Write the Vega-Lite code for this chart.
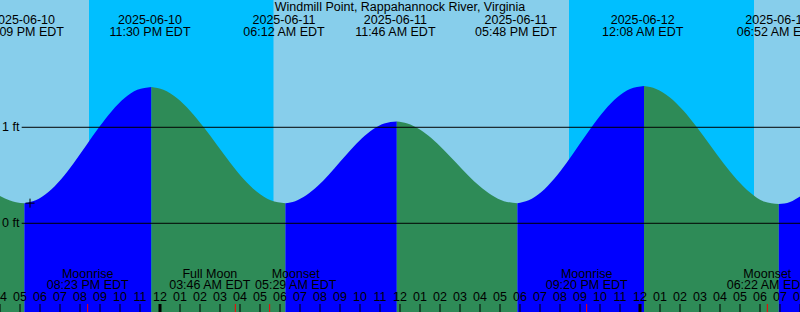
{
  "$schema": "https://vega.github.io/schema/vega-lite/v6.json",
  "width": 800,
  "height": 312,
  "autosize": {"type": "none"},
  "padding": 0,
  "background": "#87CEEB",
  "view": {"stroke": null},
  "config": {"text": {"font": "Liberation Sans", "fontSize": 12.5, "color": "black"}},
  "datasets": {
    "bands": [
      {"start": -8, "end": -3.55, "kind": "day"},
      {"start": -3.55, "end": 5.685, "kind": "night"},
      {"start": 5.685, "end": 20.45, "kind": "day"},
      {"start": 20.45, "end": 29.7, "kind": "night"},
      {"start": 29.7, "end": 32, "kind": "day"}
    ],
    "tide": [
      {"h": -8, "ft": 0.285, "seg": 1, "phase": "falling"},
      {"h": -7.5, "ft": 0.238, "seg": 1, "phase": "falling"},
      {"h": -7.2, "ft": 0.22, "seg": 1, "phase": "falling"},
      {"h": -6.78, "ft": 0.21, "seg": 1, "phase": "falling"},
      {"h": -6.78, "ft": 0.21, "seg": 2, "phase": "rising"},
      {"h": -6.215, "ft": 0.2396, "seg": 2, "phase": "rising"},
      {"h": -5.58, "ft": 0.3255, "seg": 2, "phase": "rising"},
      {"h": -4.945, "ft": 0.4594, "seg": 2, "phase": "rising"},
      {"h": -4.31, "ft": 0.628, "seg": 2, "phase": "rising"},
      {"h": -3.675, "ft": 0.815, "seg": 2, "phase": "rising"},
      {"h": -3.04, "ft": 1.002, "seg": 2, "phase": "rising"},
      {"h": -2.405, "ft": 1.1706, "seg": 2, "phase": "rising"},
      {"h": -1.77, "ft": 1.3045, "seg": 2, "phase": "rising"},
      {"h": -1.135, "ft": 1.3904, "seg": 2, "phase": "rising"},
      {"h": -0.43, "ft": 1.42, "seg": 2, "phase": "rising"},
      {"h": -0.43, "ft": 1.42, "seg": 3, "phase": "falling"},
      {"h": 0.17, "ft": 1.3904, "seg": 3, "phase": "falling"},
      {"h": 0.84, "ft": 1.3045, "seg": 3, "phase": "falling"},
      {"h": 1.51, "ft": 1.1706, "seg": 3, "phase": "falling"},
      {"h": 2.18, "ft": 1.002, "seg": 3, "phase": "falling"},
      {"h": 2.85, "ft": 0.815, "seg": 3, "phase": "falling"},
      {"h": 3.52, "ft": 0.628, "seg": 3, "phase": "falling"},
      {"h": 4.19, "ft": 0.4594, "seg": 3, "phase": "falling"},
      {"h": 4.86, "ft": 0.3255, "seg": 3, "phase": "falling"},
      {"h": 5.53, "ft": 0.2396, "seg": 3, "phase": "falling"},
      {"h": 6.27, "ft": 0.21, "seg": 3, "phase": "falling"},
      {"h": 6.27, "ft": 0.21, "seg": 4, "phase": "rising"},
      {"h": 6.757, "ft": 0.2308, "seg": 4, "phase": "rising"},
      {"h": 7.313, "ft": 0.2912, "seg": 4, "phase": "rising"},
      {"h": 7.87, "ft": 0.3852, "seg": 4, "phase": "rising"},
      {"h": 8.427, "ft": 0.5037, "seg": 4, "phase": "rising"},
      {"h": 8.983, "ft": 0.635, "seg": 4, "phase": "rising"},
      {"h": 9.54, "ft": 0.7663, "seg": 4, "phase": "rising"},
      {"h": 10.097, "ft": 0.8848, "seg": 4, "phase": "rising"},
      {"h": 10.653, "ft": 0.9788, "seg": 4, "phase": "rising"},
      {"h": 11.21, "ft": 1.0392, "seg": 4, "phase": "rising"},
      {"h": 11.84, "ft": 1.06, "seg": 4, "phase": "rising"},
      {"h": 11.84, "ft": 1.06, "seg": 5, "phase": "falling"},
      {"h": 12.37, "ft": 1.0392, "seg": 5, "phase": "falling"},
      {"h": 12.973, "ft": 0.9788, "seg": 5, "phase": "falling"},
      {"h": 13.577, "ft": 0.8848, "seg": 5, "phase": "falling"},
      {"h": 14.18, "ft": 0.7663, "seg": 5, "phase": "falling"},
      {"h": 14.783, "ft": 0.635, "seg": 5, "phase": "falling"},
      {"h": 15.387, "ft": 0.5037, "seg": 5, "phase": "falling"},
      {"h": 15.99, "ft": 0.3852, "seg": 5, "phase": "falling"},
      {"h": 16.593, "ft": 0.2912, "seg": 5, "phase": "falling"},
      {"h": 17.197, "ft": 0.2308, "seg": 5, "phase": "falling"},
      {"h": 17.87, "ft": 0.21, "seg": 5, "phase": "falling"},
      {"h": 17.87, "ft": 0.21, "seg": 6, "phase": "rising"},
      {"h": 18.433, "ft": 0.2399, "seg": 6, "phase": "rising"},
      {"h": 19.067, "ft": 0.3265, "seg": 6, "phase": "rising"},
      {"h": 19.7, "ft": 0.4615, "seg": 6, "phase": "rising"},
      {"h": 20.333, "ft": 0.6315, "seg": 6, "phase": "rising"},
      {"h": 20.967, "ft": 0.82, "seg": 6, "phase": "rising"},
      {"h": 21.6, "ft": 1.0085, "seg": 6, "phase": "rising"},
      {"h": 22.233, "ft": 1.1785, "seg": 6, "phase": "rising"},
      {"h": 22.867, "ft": 1.3135, "seg": 6, "phase": "rising"},
      {"h": 23.5, "ft": 1.4001, "seg": 6, "phase": "rising"},
      {"h": 24.2, "ft": 1.43, "seg": 6, "phase": "rising"},
      {"h": 24.2, "ft": 1.43, "seg": 7, "phase": "falling"},
      {"h": 24.807, "ft": 1.3999, "seg": 7, "phase": "falling"},
      {"h": 25.48, "ft": 1.3125, "seg": 7, "phase": "falling"},
      {"h": 26.153, "ft": 1.1765, "seg": 7, "phase": "falling"},
      {"h": 26.827, "ft": 1.005, "seg": 7, "phase": "falling"},
      {"h": 27.5, "ft": 0.815, "seg": 7, "phase": "falling"},
      {"h": 28.173, "ft": 0.6249, "seg": 7, "phase": "falling"},
      {"h": 28.847, "ft": 0.4535, "seg": 7, "phase": "falling"},
      {"h": 29.52, "ft": 0.3175, "seg": 7, "phase": "falling"},
      {"h": 30.193, "ft": 0.2268, "seg": 7, "phase": "falling"},
      {"h": 30.94, "ft": 0.2, "seg": 7, "phase": "falling"},
      {"h": 30.94, "ft": 0.2, "seg": 8, "phase": "rising"},
      {"h": 31.5, "ft": 0.222, "seg": 8, "phase": "rising"},
      {"h": 32, "ft": 0.28, "seg": 8, "phase": "rising"}
    ],
    "levels": [
      {"ft": 1, "label": "1 ft"},
      {"ft": 0, "label": "0 ft"}
    ],
    "tideEvents": [
      {"h": -6.85, "date": "2025-06-10", "time": "05:09 PM EDT"},
      {"h": -0.5, "date": "2025-06-10", "time": "11:30 PM EDT"},
      {"h": 6.2, "date": "2025-06-11", "time": "06:12 AM EDT"},
      {"h": 11.767, "date": "2025-06-11", "time": "11:46 AM EDT"},
      {"h": 17.8, "date": "2025-06-11", "time": "05:48 PM EDT"},
      {"h": 24.133, "date": "2025-06-12", "time": "12:08 AM EDT"},
      {"h": 30.867, "date": "2025-06-12", "time": "06:52 AM EDT"}
    ],
    "moon": [
      {"h": -3.617, "name": "Moonrise", "time": "08:23 PM EDT"},
      {"h": 3.767, "name": "Full Moon", "time": "03:46 AM EDT"},
      {"h": 5.483, "name": "Moonset", "time": "05:29 AM EDT"},
      {"h": 21.333, "name": "Moonrise", "time": "09:20 PM EDT"},
      {"h": 30.367, "name": "Moonset", "time": "06:22 AM EDT"}
    ],
    "hours": [
      {"h": -8, "lab": "04", "midnight": false},
      {"h": -7, "lab": "05", "midnight": false},
      {"h": -6, "lab": "06", "midnight": false},
      {"h": -5, "lab": "07", "midnight": false},
      {"h": -4, "lab": "08", "midnight": false},
      {"h": -3, "lab": "09", "midnight": false},
      {"h": -2, "lab": "10", "midnight": false},
      {"h": -1, "lab": "11", "midnight": false},
      {"h": 0, "lab": "12", "midnight": true},
      {"h": 1, "lab": "01", "midnight": false},
      {"h": 2, "lab": "02", "midnight": false},
      {"h": 3, "lab": "03", "midnight": false},
      {"h": 4, "lab": "04", "midnight": false},
      {"h": 5, "lab": "05", "midnight": false},
      {"h": 6, "lab": "06", "midnight": false},
      {"h": 7, "lab": "07", "midnight": false},
      {"h": 8, "lab": "08", "midnight": false},
      {"h": 9, "lab": "09", "midnight": false},
      {"h": 10, "lab": "10", "midnight": false},
      {"h": 11, "lab": "11", "midnight": false},
      {"h": 12, "lab": "12", "midnight": false},
      {"h": 13, "lab": "01", "midnight": false},
      {"h": 14, "lab": "02", "midnight": false},
      {"h": 15, "lab": "03", "midnight": false},
      {"h": 16, "lab": "04", "midnight": false},
      {"h": 17, "lab": "05", "midnight": false},
      {"h": 18, "lab": "06", "midnight": false},
      {"h": 19, "lab": "07", "midnight": false},
      {"h": 20, "lab": "08", "midnight": false},
      {"h": 21, "lab": "09", "midnight": false},
      {"h": 22, "lab": "10", "midnight": false},
      {"h": 23, "lab": "11", "midnight": false},
      {"h": 24, "lab": "12", "midnight": true},
      {"h": 25, "lab": "01", "midnight": false},
      {"h": 26, "lab": "02", "midnight": false},
      {"h": 27, "lab": "03", "midnight": false},
      {"h": 28, "lab": "04", "midnight": false},
      {"h": 29, "lab": "05", "midnight": false},
      {"h": 30, "lab": "06", "midnight": false},
      {"h": 31, "lab": "07", "midnight": false},
      {"h": 32, "lab": "08", "midnight": false}
    ],
    "marker": [{"h": -6.5, "ft": 0.21}],
    "titleRow": [{"h": 12, "text": "Windmill Point, Rappahannock River, Virginia"}]
  },
  "encoding": {
    "x": {"type": "quantitative", "scale": {"domain": [-8, 32], "nice": false, "zero": false}, "axis": null},
    "y": {"type": "quantitative", "scale": {"domain": [-0.924, 2.326], "nice": false, "zero": false}, "axis": null}
  },
  "layer": [
    {
      "data": {"name": "bands"},
      "mark": {"type": "rect"},
      "encoding": {
        "x": {"field": "start", "type": "quantitative"},
        "x2": {"field": "end"},
        "y": {"datum": 2.326},
        "y2": {"datum": -0.924},
        "color": {"field": "kind", "type": "nominal", "scale": {"domain": ["day", "night"], "range": ["#87CEEB", "#00BFFF"]}, "legend": null}
      }
    },
    {
      "data": {"name": "tide"},
      "mark": {"type": "area", "interpolate": "monotone"},
      "encoding": {
        "x": {"field": "h", "type": "quantitative"},
        "y": {"field": "ft", "type": "quantitative", "stack": null},
        "y2": {"datum": -0.924},
        "detail": {"field": "seg", "type": "nominal"},
        "fill": {"field": "phase", "type": "nominal", "scale": {"domain": ["rising", "falling"], "range": ["#0000FF", "#2E8B57"]}, "legend": null}
      }
    },
    {
      "data": {"name": "levels"},
      "mark": {"type": "rule", "color": "black", "strokeWidth": 1},
      "encoding": {
        "x": {"datum": -6.915},
        "x2": {"datum": 32},
        "y": {"field": "ft", "type": "quantitative"}
      }
    },
    {
      "data": {"name": "levels"},
      "mark": {"type": "text", "align": "left", "baseline": "middle", "dx": 2},
      "encoding": {
        "x": {"datum": -8},
        "y": {"field": "ft", "type": "quantitative"},
        "text": {"field": "label"}
      }
    },
    {
      "data": {"name": "marker"},
      "mark": {"type": "point", "shape": "M-1,0H1M0,-1V1", "filled": false, "stroke": "black", "strokeWidth": 1, "size": 81, "opacity": 1},
      "encoding": {
        "x": {"field": "h", "type": "quantitative"},
        "y": {"field": "ft", "type": "quantitative"}
      }
    },
    {
      "data": {"name": "titleRow"},
      "mark": {"type": "text", "align": "center", "baseline": "alphabetic"},
      "encoding": {"x": {"field": "h", "type": "quantitative"}, "y": {"datum": 2.216}, "text": {"field": "text"}}
    },
    {
      "data": {"name": "tideEvents"},
      "mark": {"type": "text", "align": "center", "baseline": "alphabetic"},
      "encoding": {"x": {"field": "h", "type": "quantitative"}, "y": {"datum": 2.076}, "text": {"field": "date"}}
    },
    {
      "data": {"name": "tideEvents"},
      "mark": {"type": "text", "align": "center", "baseline": "alphabetic"},
      "encoding": {"x": {"field": "h", "type": "quantitative"}, "y": {"datum": 1.951}, "text": {"field": "time"}}
    },
    {
      "data": {"name": "moon"},
      "transform": [{"filter": "datum.name != 'Full Moon' && !(datum.h > 5 && datum.h < 6)"}],
      "encoding": {"x": {"field": "h", "type": "quantitative"}},
      "layer": [
        {"mark": {"type": "text", "align": "center", "baseline": "alphabetic"}, "encoding": {"y": {"datum": -0.573}, "text": {"field": "name"}}},
        {"mark": {"type": "text", "align": "center", "baseline": "alphabetic"}, "encoding": {"y": {"datum": -0.688}, "text": {"field": "time"}}}
      ]
    },
    {
      "data": {"name": "moon"},
      "transform": [{"filter": "datum.name == 'Full Moon'"}],
      "encoding": {"x": {"field": "h", "type": "quantitative"}},
      "layer": [
        {"mark": {"type": "text", "align": "center", "baseline": "alphabetic", "dx": -25.5}, "encoding": {"y": {"datum": -0.573}, "text": {"field": "name"}}},
        {"mark": {"type": "text", "align": "center", "baseline": "alphabetic", "dx": -25.5}, "encoding": {"y": {"datum": -0.688}, "text": {"field": "time"}}}
      ]
    },
    {
      "data": {"name": "moon"},
      "transform": [{"filter": "datum.h > 5 && datum.h < 6"}],
      "encoding": {"x": {"field": "h", "type": "quantitative"}},
      "layer": [
        {"mark": {"type": "text", "align": "center", "baseline": "alphabetic", "dx": 26}, "encoding": {"y": {"datum": -0.573}, "text": {"field": "name"}}},
        {"mark": {"type": "text", "align": "center", "baseline": "alphabetic", "dx": 26}, "encoding": {"y": {"datum": -0.688}, "text": {"field": "time"}}}
      ]
    },
    {
      "data": {"name": "hours"},
      "mark": {"type": "text", "align": "center", "baseline": "alphabetic"},
      "encoding": {"x": {"field": "h", "type": "quantitative"}, "y": {"datum": -0.8125}, "text": {"field": "lab"}}
    },
    {
      "data": {"name": "hours"},
      "mark": {"type": "rule", "color": "black"},
      "encoding": {
        "x": {"field": "h", "type": "quantitative"},
        "y": {"datum": -0.8407},
        "y2": {"datum": -0.924},
        "strokeWidth": {"field": "midnight", "type": "nominal", "scale": {"domain": [false, true], "range": [1, 3]}, "legend": null}
      }
    },
    {
      "data": {"name": "moon"},
      "mark": {"type": "rule", "color": "red", "strokeWidth": 1},
      "encoding": {
        "x": {"field": "h", "type": "quantitative"},
        "y": {"datum": -0.8407},
        "y2": {"datum": -0.924}
      }
    }
  ]
}
